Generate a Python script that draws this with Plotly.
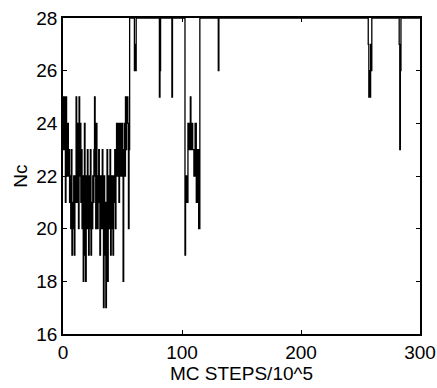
import plotly.graph_objects as go

# Early fluctuating regime, sampled every 0.5 (x 10^5 MC steps), from x = 0
early_step = 0.5
early_nc = [
    25, 23, 25, 24, 21, 25, 23, 22, 24,
    22, 23, 21, 22, 20, 23,
    19, 21, 20, 22, 19, 21,
    22, 25, 21, 24, 23, 20, 25, 22, 24, 21, 23, 20,
    22, 18, 21, 24, 19, 18, 22, 20, 23, 21,
    19, 22, 20, 23, 19, 21, 20, 22,
    21, 23, 25, 22, 20, 24, 21,
    20, 22, 23, 21, 19, 22, 20, 21, 23,
    20, 17, 22, 19, 21, 17, 20, 23, 18, 21,
    22, 20, 23, 19, 21, 22, 20, 19, 22, 21, 23, 20,
    22, 24, 23, 22, 24, 21, 23, 24, 22, 23, 24,
    22, 18, 23, 24, 22, 25, 23, 24, 25,
    24, 20, 23,
]

# Later regime: mostly Nc = 28 with occasional dips
late_x = [56, 59.5, 60, 60.5, 61, 61.5, 81, 81.5, 82, 91.5, 92,
          102, 102.5, 103, 104, 105, 106, 107, 107.5, 108, 109, 110,
          111, 112, 113, 114, 115, 130.5, 131,
          256.5, 257, 257.5, 258, 258.5, 259, 259.5,
          282.5, 283, 283.5, 284, 300]
late_nc = [28, 28, 26, 27, 26, 28, 25, 26, 28, 25, 28,
           28, 19, 22, 21, 24, 23, 25, 23, 24, 23, 22,
           24, 21, 23, 20, 28, 26, 28,
           27, 25, 26, 25, 27, 26, 28,
           27, 23, 26, 28, 28]

x_ticks = [0, 100, 200, 300]
y_ticks = [16, 18, 20, 22, 24, 26, 28]

early_x = [i * early_step for i in range(len(early_nc))]
xs = early_x + late_x
ys = early_nc + late_nc

fig = go.Figure()
fig.add_trace(go.Scatter(
    x=xs, y=ys, mode="lines", line_shape="hv",
    line=dict(color="black", width=1.3), showlegend=False, hoverinfo="skip",
))

font = dict(family="Liberation Sans, Arial, sans-serif", size=19, color="black")
fig.update_layout(
    width=437, height=388,
    margin=dict(l=63, r=17, t=18, b=54, autoexpand=False),
    paper_bgcolor="white", plot_bgcolor="white",
    font=font,
    xaxis=dict(
        range=[0, 300], tickvals=x_ticks, ticktext=[str(v) for v in x_ticks],
        showgrid=False, zeroline=False, showline=True, linecolor="black",
        linewidth=1.5, mirror="ticks", ticks="inside", ticklen=4,
        tickcolor="black", tickfont=font, automargin=False,
        title=dict(text="MC STEPS/10^5", font=font, standoff=0),
    ),
    yaxis=dict(
        range=[16, 28], tickvals=y_ticks, ticktext=[str(v) for v in y_ticks],
        showgrid=False, zeroline=False, showline=True, linecolor="black",
        linewidth=1.5, mirror="ticks", ticks="inside", ticklen=4,
        tickcolor="black", tickfont=font, automargin=False,
        title=dict(text="Nc", font=font, standoff=4),
    ),
)

fig.write_html("out.html")
